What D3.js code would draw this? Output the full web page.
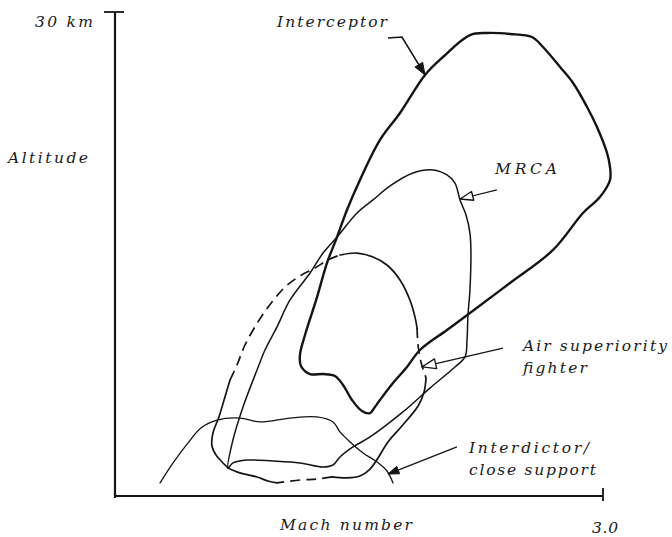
<!DOCTYPE html>
<html><head><meta charset="utf-8">
<script src="https://cdn.jsdelivr.net/npm/d3@7"></script>
<style>
html,body{margin:0;padding:0;background:#fff;}
svg{display:block;}
text{font-family:"DejaVu Serif","Liberation Serif",serif;font-style:italic;fill:#1a1a1a;}
</style>
</head><body>
<svg id="c" width="672" height="537"></svg>
<script>
// ---- data (Mach number, altitude km) ----
const xTickValues = [3.0];
const xTickLabels = ["3.0"];
const yTickValues = [30];
const yTickLabels = ["30 km"];
const xTitle = "Mach number";
const yTitle = "Altitude";

const interceptor = [
  [1.506,19.59],[1.629,22.07],[1.752,23.74],[1.906,26.10],[2.016,27.21],[2.182,28.57],
  [2.287,28.70],[2.428,28.64],[2.563,28.45],[2.631,27.83],[2.736,26.59],[2.816,25.60],
  [2.902,24.11],[2.963,22.87],[3.025,21.26],[3.043,20.39],[3.043,19.59],[2.981,18.53],
  [2.877,17.54],[2.693,15.25],[2.428,13.20],[2.182,11.34],[2.041,10.29],[1.875,9.05],
  [1.795,8.00],[1.709,7.00],[1.629,5.95],[1.598,5.52],[1.568,5.14],[1.518,5.27],
  [1.457,5.95],[1.402,6.88],[1.352,7.44],[1.279,7.56],[1.199,7.56],[1.143,8.06],
  [1.137,8.74],[1.168,9.98],[1.242,12.33],[1.303,14.44],[1.365,16.05],[1.426,17.73]
];

const mrca = [
  [0.695,1.74],[0.725,3.47],[0.787,5.52],[0.873,7.81],[0.922,9.05],[0.996,10.48],
  [1.076,12.15],[1.199,13.82],[1.279,15.06],[1.365,16.05],[1.488,17.54],[1.586,18.35],
  [1.691,19.22],[1.832,20.02],[1.955,20.21],[2.041,19.90],[2.090,19.40],[2.121,18.35],
  [2.158,17.42],[2.182,16.30],[2.188,15.25],[2.182,12.77],[2.170,11.22],[2.164,9.67],
  [2.152,8.62],[2.090,8.00],[1.936,6.69],[1.770,5.21],[1.568,3.66],[1.463,3.04],
  [1.383,2.42],[1.340,1.92],[1.279,1.80],[1.137,2.05],[0.971,2.17],[0.811,2.23],[0.725,2.05]
];

// Air superiority fighter: consecutive pieces of one closed boundary
const airSupLowerLeft = [[0.695,1.74],[0.658,2.11],[0.621,2.54],[0.596,3.10],[0.602,3.90],[0.639,4.90],[0.676,6.14],[0.707,7.19]];
const airSupUpperLeft = [[0.707,7.19],[0.750,8.12],[0.799,9.36],[0.879,10.79],[0.965,12.02],[1.045,12.95],[1.137,13.64],[1.229,14.13],[1.309,14.63],[1.383,14.94]];
const airSupTop = [[1.383,14.94],[1.488,15.06],[1.586,14.81],[1.672,14.32],[1.752,13.39],[1.813,12.15],[1.844,11.10],[1.857,10.41]];
const airSupRightUpper = [[1.857,10.41],[1.863,9.36],[1.881,8.31],[1.912,7.31]];
const airSupRightLower = [[1.912,7.31],[1.900,6.45],[1.863,5.58],[1.764,4.34],[1.678,3.35],[1.617,2.36],[1.568,1.67],[1.506,1.24],[1.426,1.12],[1.334,1.18]];
const airSupBottomMid = [[1.334,1.18],[1.242,1.05],[1.137,0.99],[0.996,0.81]];
const airSupBottomLeft = [[0.996,0.81],[0.941,0.93],[0.873,1.18],[0.768,1.43],[0.695,1.74]];

const interdictor = [
  [0.277,0.81],[0.357,2.05],[0.449,3.29],[0.528,4.22],[0.627,4.71],[0.768,4.83],[0.891,4.59],
  [1.076,4.83],[1.242,4.90],[1.340,4.59],[1.383,3.97],[1.445,3.35],[1.525,2.67],[1.611,2.11],
  [1.672,1.55],[1.709,0.81]
];

// annotation leader lines (from label to curve)
const interceptorArrow = [[1.678,28.39],[1.764,28.45],[1.906,26.10]];
const mrcaArrow = [[2.348,18.97],[2.121,18.41]];
const airSupArrow = [[2.385,9.17],[1.887,8.00]];
const interdictorArrow = [[2.102,3.04],[1.678,1.36]];

const labels = [
  {lines:["Interceptor"], m:0.996, a:29.07, w:[110]},
  {lines:["MRCA"], m:2.336, a:19.96, w:[62]},
  {lines:["Air superiority","fighter"], m:2.508, a:8.99, w:[144,64]},
  {lines:["Interdictor/","close support"], m:2.176, a:2.67, w:[120,127]}
];

// ---- drawing ----
const svg = d3.select("#c");
const x = d3.scaleLinear().domain([0,3.0]).range([115,603]);
const y = d3.scaleLinear().domain([0,30]).range([496,12]);
const ink = "#141414";
const fs = 15.5;

const lineOpen = d3.line().x(d=>x(d[0])).y(d=>y(d[1])).curve(d3.curveCatmullRom.alpha(0.5));
const lineClosed = d3.line().x(d=>x(d[0])).y(d=>y(d[1])).curve(d3.curveCatmullRomClosed.alpha(0.5));
const lineStraight = d3.line().x(d=>x(d[0])).y(d=>y(d[1]));

// axes
const ax = svg.append("g").attr("stroke",ink).attr("fill","none");
ax.append("line").attr("x1",x(0)).attr("x2",x(0)).attr("y1",y(30)).attr("y2",y(0)+2).attr("stroke-width",2.2);
ax.append("line").attr("x1",x(0)).attr("x2",x(3.0)).attr("y1",y(0)).attr("y2",y(0)).attr("stroke-width",2.2);
yTickValues.forEach(v=>ax.append("line").attr("x1",x(0)-11).attr("x2",x(0)+9).attr("y1",y(v)).attr("y2",y(v)).attr("stroke-width",1.8));
xTickValues.forEach(v=>ax.append("line").attr("x1",x(v)).attr("x2",x(v)).attr("y1",y(0)-8).attr("y2",y(0)+5).attr("stroke-width",1.8));

yTickLabels.forEach((t,i)=>svg.append("text").attr("x",x(0)-22).attr("y",y(yTickValues[i])+15)
  .attr("text-anchor","end").attr("font-size",fs).attr("textLength",58).attr("lengthAdjust","spacing").text(t));
xTickLabels.forEach((t,i)=>svg.append("text").attr("x",x(xTickValues[i])-11).attr("y",y(0)+37)
  .attr("font-size",fs).attr("textLength",26).attr("lengthAdjust","spacing").text(t));
svg.append("text").attr("x",8).attr("y",163).attr("font-size",fs).attr("textLength",80).attr("lengthAdjust","spacing").text(yTitle);
svg.append("text").attr("x",280).attr("y",530).attr("font-size",fs).attr("textLength",132).attr("lengthAdjust","spacing").text(xTitle);

// curves
const g = svg.append("g").attr("fill","none").attr("stroke",ink).attr("stroke-linejoin","round").attr("stroke-linecap","round");
g.append("path").attr("d",lineOpen(interdictor)).attr("stroke-width",1.3);
g.append("path").attr("d",lineClosed(mrca)).attr("stroke-width",1.5);
const solidPieces = [airSupLowerLeft, airSupTop, airSupRightLower, airSupBottomLeft];
const dashedPieces = [airSupUpperLeft, airSupRightUpper, airSupBottomMid];
solidPieces.forEach(p=>g.append("path").attr("d",lineOpen(p)).attr("stroke-width",1.7));
dashedPieces.forEach(p=>g.append("path").attr("d",lineOpen(p)).attr("stroke-width",1.7).attr("stroke-dasharray","10,6").attr("stroke-linecap","butt"));
g.append("path").attr("d",lineClosed(interceptor)).attr("stroke-width",2.4);

// arrows
function head(pts, len, half, filled){
  const p1 = pts[pts.length-1], p0 = pts[pts.length-2];
  const tx=x(p1[0]), ty=y(p1[1]), fx=x(p0[0]), fy=y(p0[1]);
  const dx=tx-fx, dy=ty-fy, L=Math.hypot(dx,dy), ux=dx/L, uy=dy/L;
  const bx=tx-ux*len, by=ty-uy*len;
  const poly=[[tx,ty],[bx-uy*half,by+ux*half],[bx+uy*half,by-ux*half]];
  svg.append("polygon").attr("points",poly.map(q=>q.join(",")).join(" "))
    .attr("fill",filled?ink:"#fff").attr("stroke",ink).attr("stroke-width",filled?1:1.3).attr("stroke-linejoin","round");
}
const ag = svg.append("g").attr("fill","none").attr("stroke",ink);
ag.append("path").attr("d",lineStraight(interceptorArrow)).attr("stroke-width",1.6);
ag.append("path").attr("d",lineStraight(mrcaArrow)).attr("stroke-width",1.2);
ag.append("path").attr("d",lineStraight(airSupArrow)).attr("stroke-width",1.3);
ag.append("path").attr("d",lineStraight(interdictorArrow)).attr("stroke-width",1.3);
head(interceptorArrow,12,4.5,true);
head(mrcaArrow,13,4.5,false);
head(airSupArrow,14,5,false);
head(interdictorArrow,11,4,true);

// labels
labels.forEach(l=>{
  l.lines.forEach((t,i)=>{
    svg.append("text").attr("x",x(l.m)).attr("y",y(l.a)+i*22).attr("font-size",fs)
      .attr("textLength",l.w[i]).attr("lengthAdjust","spacing").text(t);
  });
});
</script>
</body></html>
